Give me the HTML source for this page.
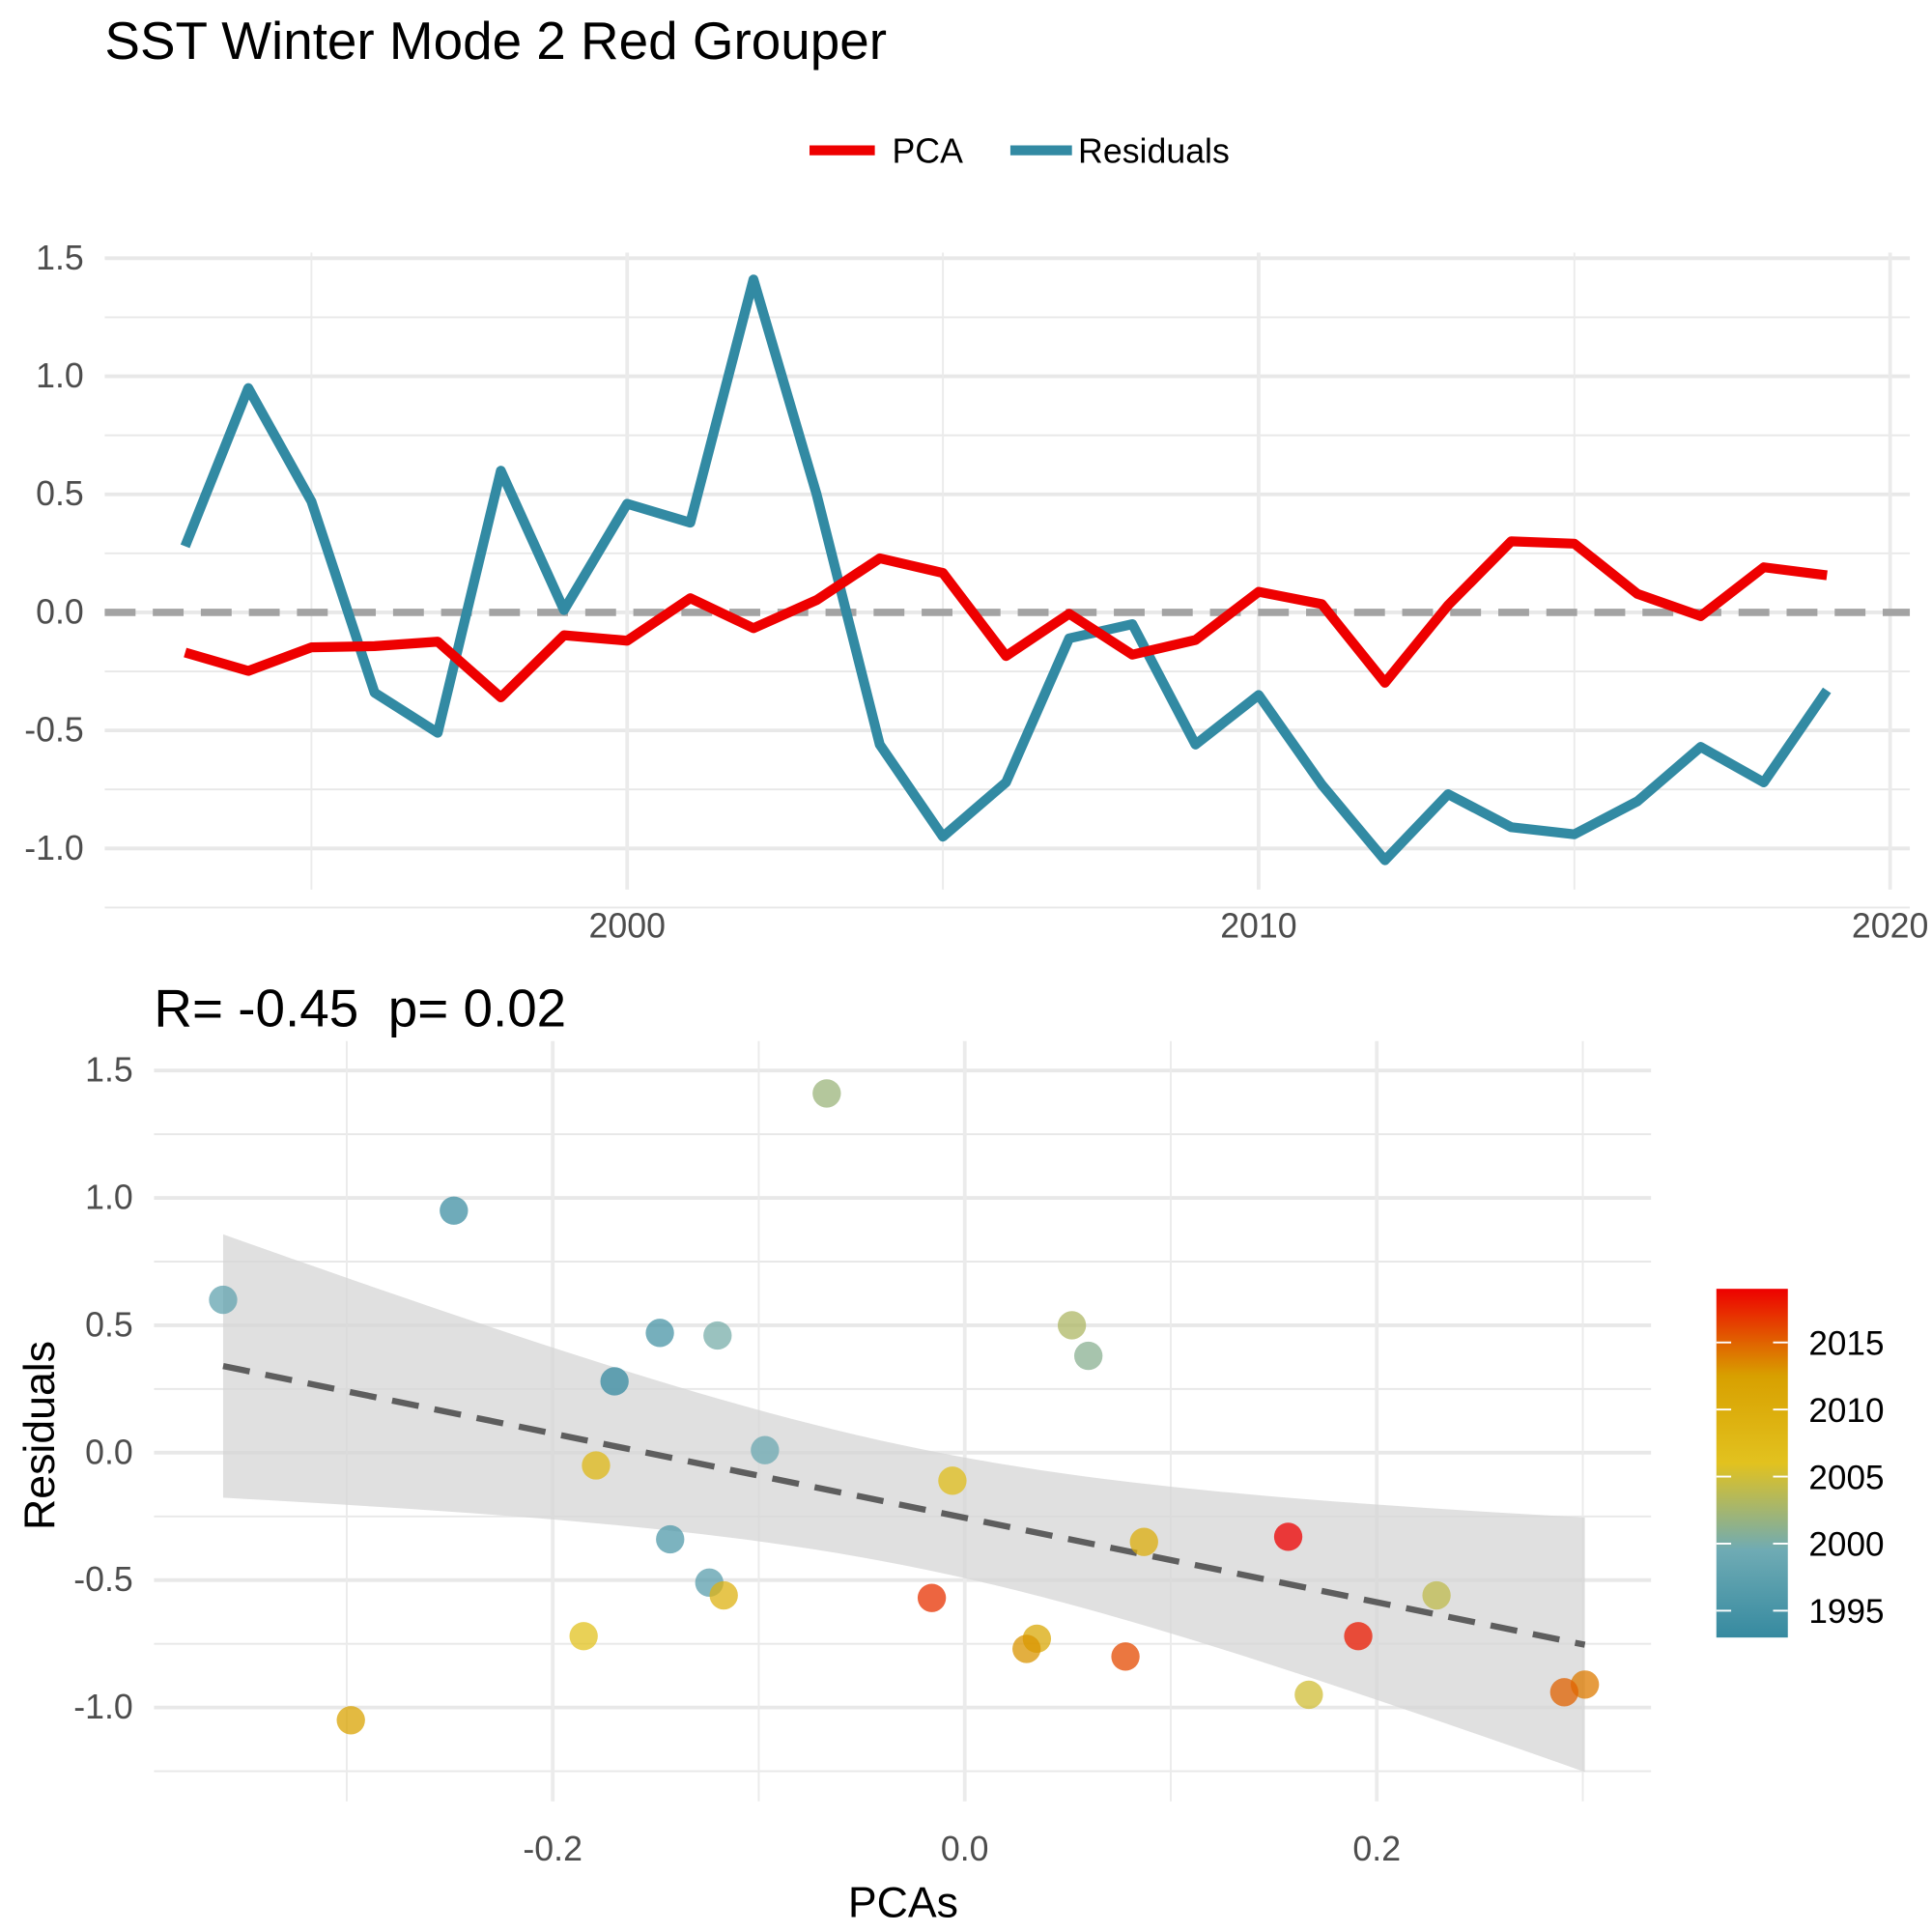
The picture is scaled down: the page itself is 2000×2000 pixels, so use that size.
<!DOCTYPE html>
<html><head><meta charset="utf-8"><style>
html,body{margin:0;padding:0;background:#fff}
svg{display:block}
text{font-family:"Liberation Sans",Arial,sans-serif}
</style></head><body>
<svg id="fig" width="2000" height="2000" viewBox="0 0 1568 1568" xmlns="http://www.w3.org/2000/svg">
<defs>
<linearGradient id="cbar" x1="0" y1="1" x2="0" y2="0">
<stop offset="0" stop-color="#368aa0"/><stop offset="0.25" stop-color="#6fabb4"/><stop offset="0.5" stop-color="#e2c21f"/><stop offset="0.75" stop-color="#d8a000"/><stop offset="1" stop-color="#ee0000"/>
</linearGradient>
<clipPath id="topclip"><rect x="85" y="205" width="1465" height="520"/></clipPath>
</defs>
<text x="85" y="48" font-size="43" fill="#000">SST Winter Mode 2 Red Grouper</text>
<g>
<line x1="657" y1="122" x2="710" y2="122" stroke="#ee0000" stroke-width="8"/>
<text x="724" y="132" font-size="28">PCA</text>
<line x1="820" y1="122" x2="870" y2="122" stroke="#328aa3" stroke-width="8"/>
<text x="875" y="132" font-size="28">Residuals</text>
</g>
<g id="topPanel"></g>
<text x="125" y="833" font-size="43" fill="#000" style="white-space:pre">R= -0.45  p= 0.02</text>
<g id="botPanel"></g>
<text x="733" y="1556" font-size="35" text-anchor="middle">PCAs</text>
<text x="0" y="0" font-size="35" text-anchor="middle" transform="translate(44,1165) rotate(-90)">Residuals</text>
<g>
<rect x="1393" y="1046" width="58" height="283" fill="url(#cbar)"/>
<g id="cbticks"></g>
</g>
</svg>
<script>
const years=[1993,1994,1995,1996,1997,1998,1999,2000,2001,2002,2003,2004,2005,2006,2007,2008,2009,2010,2011,2012,2013,2014,2015,2016,2017,2018,2019];
const pca=[-0.17,-0.248,-0.148,-0.143,-0.124,-0.36,-0.097,-0.12,0.06,-0.067,0.052,0.229,0.167,-0.185,-0.006,-0.179,-0.117,0.087,0.035,-0.298,0.03,0.301,0.291,0.078,-0.016,0.191,0.157];
const resid=[0.28,0.95,0.47,-0.34,-0.51,0.60,0.01,0.46,0.38,1.41,0.50,-0.56,-0.95,-0.72,-0.11,-0.05,-0.56,-0.35,-0.73,-1.05,-0.77,-0.91,-0.94,-0.80,-0.57,-0.72,-0.33];
const topYTicks=[1.5,1.0,0.5,0.0,-0.5,-1.0];
const topXTicks=[2000,2010,2020];
const botXTicks=[-0.2,0.0,0.2];
const botYTicks=[1.5,1.0,0.5,0.0,-0.5,-1.0];
const cbTicks=[1995,2000,2005,2010,2015];

const NS="http://www.w3.org/2000/svg";
function mk(parent,tag,attrs,txt){const e=document.createElementNS(NS,tag);for(const k in attrs)e.setAttribute(k,attrs[k]);if(txt!==undefined)e.textContent=txt;parent.appendChild(e);return e;}
const fmt=v=>v.toFixed(1);

// top panel
const topG=document.getElementById('topPanel');
const tx=y=>509+(y-2000)*51.25;
const ty=v=>497-v*191.6;
const gTop=mk(topG,'g',{});


for(let v=-1.25;v<=1.5;v+=0.25){const major=Math.abs(v*2-Math.round(v*2))<1e-6;
 mk(gTop,'line',{x1:85,x2:1550,y1:ty(v),y2:ty(v),stroke:'#e8e8e8','stroke-width':major?3:1.5});}
for(let y=1995;y<=2020;y+=5){mk(gTop,'line',{x1:tx(y),x2:tx(y),y1:205,y2:722,stroke:'#ebebeb','stroke-width':y%10===0?3:1.5});}
topYTicks.forEach(v=>{const t=mk(topG,'text',{x:68,y:ty(v)+9,'font-size':28,fill:'#4d4d4d','text-anchor':'end'},fmt(v));
 
 });
topXTicks.forEach(v=>{const t=mk(topG,'text',{x:tx(v),y:761,'font-size':28,fill:'#4d4d4d','text-anchor':'middle'},String(v));
 
 });
const zl=mk(topG,'line',{x1:85,x2:1550,y1:ty(0),y2:ty(0),stroke:'#a3a3a3','stroke-width':6,'stroke-dasharray':'25 14'});


const lr=mk(topG,'polyline',{points:years.map((y,i)=>tx(y)+','+ty(resid[i])).join(' '),fill:'none',stroke:'#328aa3','stroke-width':8,'stroke-linejoin':'round','clip-path':'url(#topclip)'});


const lp=mk(topG,'polyline',{points:years.map((y,i)=>tx(y)+','+ty(pca[i])).join(' '),fill:'none',stroke:'#ee0000','stroke-width':8,'stroke-linejoin':'round'});



// bottom panel
const botG=document.getElementById('botPanel');
const bx=v=>783+v*1672;
const by=v=>1179-v*206.8;
const gB=mk(botG,'g',{});


for(let v=-1.25;v<=1.5001;v+=0.25){const major=Math.abs(v*2-Math.round(v*2))<1e-6;
 mk(gB,'line',{x1:125,x2:1340,y1:by(v),y2:by(v),stroke:'#e8e8e8','stroke-width':major?3:1.5});}
for(let v=-0.3;v<=0.301;v+=0.1){const major=Math.abs(v*5-Math.round(v*5))<1e-6;
 mk(gB,'line',{x1:bx(v),x2:bx(v),y1:845,y2:1462,stroke:'#ebebeb','stroke-width':major?3:1.5});}
botYTicks.forEach(v=>{const t=mk(botG,'text',{x:108,y:by(v)+9,'font-size':28,fill:'#4d4d4d','text-anchor':'end'},fmt(v));
 
 });
botXTicks.forEach(v=>{const t=mk(botG,'text',{x:bx(v),y:1510,'font-size':28,fill:'#4d4d4d','text-anchor':'middle'},fmt(v));
 
 });
// regression
const nPts=pca.length;const xm=pca.reduce((a,b)=>a+b)/nPts;const ym=resid.reduce((a,b)=>a+b)/nPts;
let sxx=0,sxy=0;for(let i=0;i<nPts;i++){sxx+=(pca[i]-xm)**2;sxy+=(pca[i]-xm)*(resid[i]-ym);}
const b1=sxy/sxx,b0=ym-b1*xm;let sse=0;for(let i=0;i<nPts;i++)sse+=(resid[i]-b0-b1*pca[i])**2;
const sres=Math.sqrt(sse/(nPts-2));const tq=2.06;
const xmin=Math.min(...pca),xmax=Math.max(...pca);
const up=[],lo=[];for(let k=0;k<=60;k++){const x=xmin+(xmax-xmin)*k/60;const f=b0+b1*x;const h=tq*sres*Math.sqrt(1/nPts+(x-xm)**2/sxx);
 up.push(bx(x)+','+by(f+h));lo.unshift(bx(x)+','+by(f-h));}
const band=mk(botG,'polygon',{points:up.concat(lo).join(' '),fill:'#d6d6d6','fill-opacity':0.75});


const rl=mk(botG,'line',{x1:bx(xmin),y1:by(b0+b1*xmin),x2:bx(xmax),y2:by(b0+b1*xmax),stroke:'#5e5e5e','stroke-width':5,'stroke-dasharray':'22 13'});


const stops=[[54,138,160],[111,171,180],[226,194,31],[216,160,0],[238,0,0]];
function col(y){let t=(y-1993)/(2019-1993)*4;let i=Math.min(3,Math.floor(t));let f=t-i;const a=stops[i],b=stops[i+1];
 return 'rgb('+a.map((c,j)=>Math.round(c+(b[j]-c)*f)).join(',')+')';}
years.forEach((y,i)=>{const c=mk(botG,'circle',{cx:bx(pca[i]),cy:by(resid[i]),r:11.5,fill:col(y),'fill-opacity':0.75});
 
 });
// colorbar ticks
const cbG=document.getElementById('cbticks');
const cbY=y=>1329-(y-1993)/(2019-1993)*283;
cbTicks.forEach(y=>{mk(cbG,'line',{x1:1393,x2:1405,y1:cbY(y),y2:cbY(y),stroke:'#fff','stroke-width':1.5});
 mk(cbG,'line',{x1:1439,x2:1451,y1:cbY(y),y2:cbY(y),stroke:'#fff','stroke-width':1.5});
 const t=mk(cbG,'text',{x:1468,y:cbY(y)+10,'font-size':27.5,fill:'#000'},String(y));
 
 });
</script>
</body></html>
